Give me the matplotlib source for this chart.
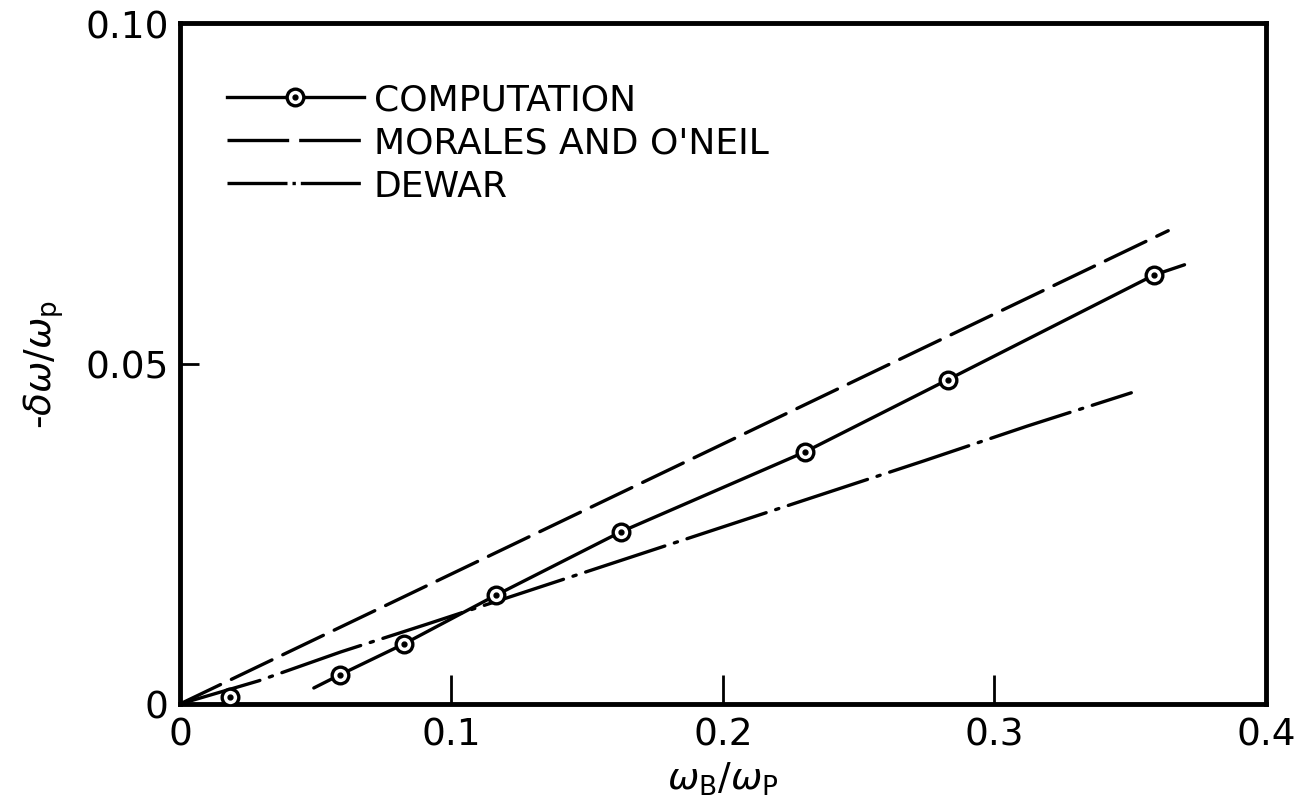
import matplotlib
matplotlib.use("Agg")
import matplotlib.pyplot as plt
from matplotlib.lines import Line2D
from matplotlib.legend_handler import HandlerTuple

plt.rcParams["font.family"] = ["DejaVu Sans"]
plt.rcParams["mathtext.fontset"] = "dejavusans"

# computed points
comp_x = [0.0184, 0.0588, 0.0824, 0.1165, 0.1625, 0.2301, 0.2827, 0.3588]
comp_y = [0.00103, 0.00426, 0.0088, 0.0160, 0.0253, 0.0370, 0.0476, 0.0630]

# hand-drawn curve through the computed points
curve_x = [0.0493, 0.0588, 0.0824, 0.1165, 0.1625, 0.2301, 0.2827, 0.3588, 0.370]
curve_y = [0.00235, 0.00426, 0.0088, 0.0160, 0.0253, 0.0370, 0.0476, 0.0630, 0.0645]

# theory curves
morales_x = [0.0, 0.364]
morales_y = [0.0, 0.0695]
dewar_x = [0.0, 0.029, 0.0592, 0.0912, 0.274, 0.312, 0.3504]
dewar_y = [0.0, 0.0034, 0.00764, 0.01175, 0.0357, 0.0408, 0.0457]

xticks = [0, 0.1, 0.2, 0.3, 0.4]
xtick_labels = ["0", "0.1", "0.2", "0.3", "0.4"]
yticks = [0, 0.05, 0.10]
ytick_labels = ["0", "0.05", "0.10"]

lw = 2.4
dashed = (0, (13.5, 3.6))
dashdot = (0, (25, 3, 1, 3))

fig = plt.figure(figsize=(13.05, 8.12), dpi=100)
ax = fig.add_axes([0.1379, 0.1318, 0.8322, 0.8386])

ax.plot(morales_x, morales_y, color="black", lw=lw, linestyle=dashed,
        dash_capstyle="round")
ax.plot(dewar_x, dewar_y, color="black", lw=lw, linestyle=dashdot,
        dash_capstyle="round")
ax.plot(curve_x, curve_y, color="black", lw=lw, solid_capstyle="round")
ax.plot(comp_x, comp_y, linestyle="none", marker="o", ms=12, mfc="white",
        mec="black", mew=2.4, zorder=5)
ax.plot(comp_x, comp_y, linestyle="none", marker="o", ms=3.5, mfc="black",
        mec="black", zorder=6)

ax.set_xlim(0, 0.4)
ax.set_ylim(0, 0.10)
ax.set_xticks(xticks)
ax.set_xticklabels(xtick_labels)
ax.set_yticks(yticks)
ax.set_yticklabels(ytick_labels)
ax.tick_params(direction="in", width=2, labelsize=27, top=False, right=False)
ax.tick_params(axis="x", length=21, pad=9)
ax.tick_params(axis="y", length=14, pad=8)
for s in ax.spines.values():
    s.set_linewidth(3.5)

ax.set_xlabel(r"$\omega_\mathrm{B}/\omega_\mathrm{P}$", fontsize=27, labelpad=5)
ax.set_ylabel(r"-$\delta\omega/\omega_\mathrm{p}$", fontsize=27, labelpad=14)

# legend entries
h_comp = (Line2D([], [], color="black", lw=lw, marker="o", ms=12, mfc="white",
                 mec="black", mew=2.4),
          Line2D([], [], linestyle="none", marker="o", ms=3.5, color="black"))
h_mor = Line2D([], [], color="black", lw=lw, linestyle=(0, (18.5, 3)))
h_dew = Line2D([], [], color="black", lw=lw, linestyle=(0, (18, 1.5, 1, 1.5)))
ax.legend([h_comp, h_mor, h_dew],
          ["COMPUTATION", "MORALES AND O'NEIL", "DEWAR"],
          handler_map={tuple: HandlerTuple(ndivide=1)},
          loc="upper left", bbox_to_anchor=(0.043, 0.912),
          frameon=False, fontsize=26, handlelength=3.8, handletextpad=0.28,
          labelspacing=0.25, borderpad=0, borderaxespad=0)

fig.savefig("out.png", dpi=100)
